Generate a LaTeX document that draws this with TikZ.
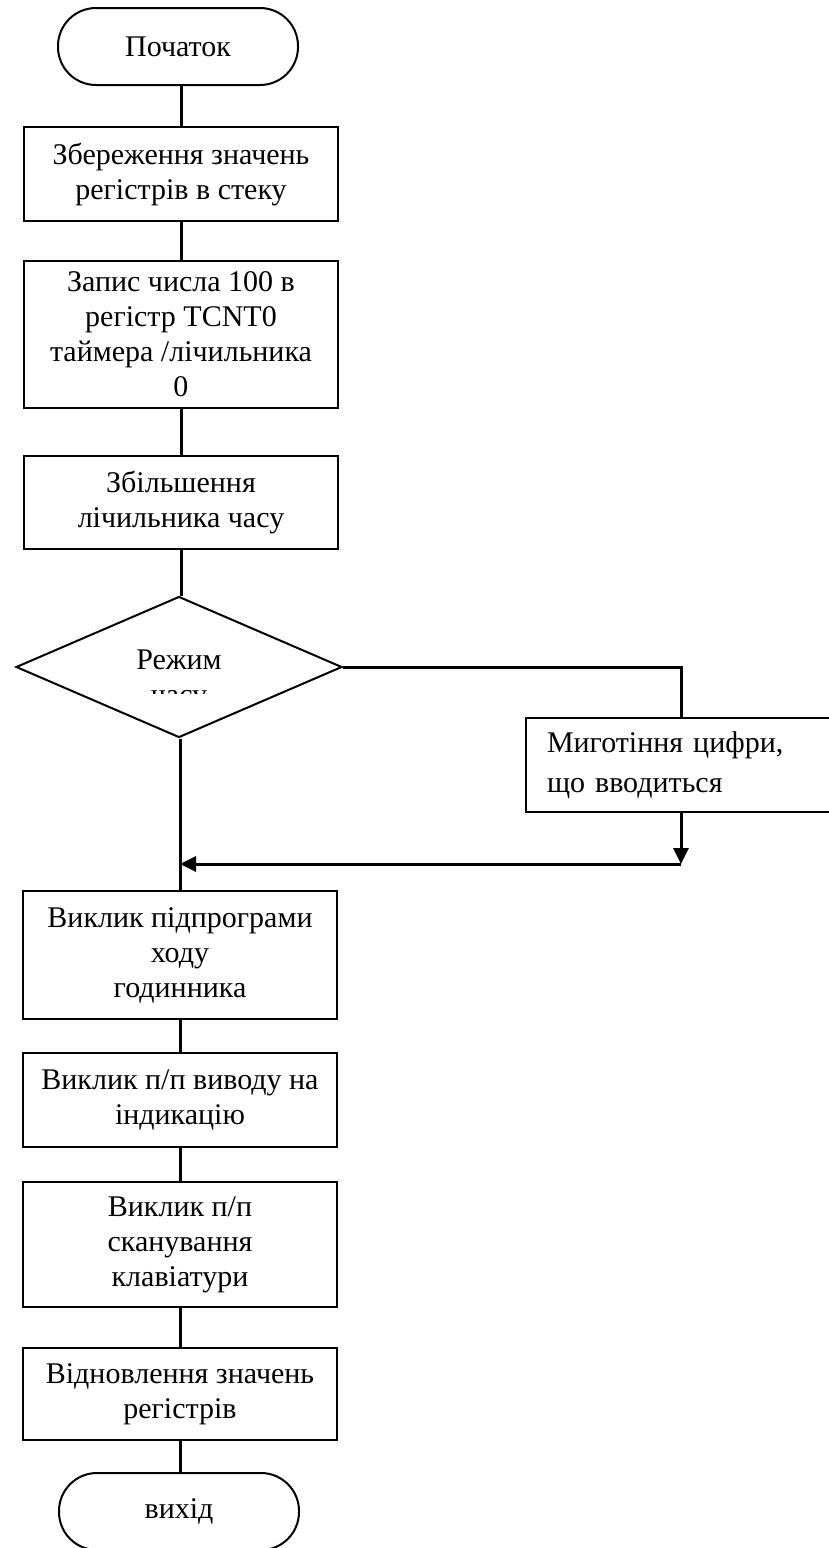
\documentclass[tikz,border=0pt]{standalone}
\usepackage{fontspec}
\setmainfont{Liberation Serif}
\usetikzlibrary{shapes.geometric,arrows.meta}
\begin{document}
\begin{tikzpicture}[x=1pt,y=-1pt,
  every node/.style={font=\fontsize{30}{35}\selectfont},
  proc/.style={draw,line width=2pt,rectangle,inner sep=0pt,align=center,minimum width=314pt},
  term/.style={draw,line width=2pt,rectangle,rounded corners=38pt,inner sep=0pt,minimum width=240pt,minimum height=77pt},
  decis/.style={draw,line width=2pt,diamond,inner sep=0pt,minimum width=326pt,minimum height=141pt},
  conn/.style={line width=3pt},
  arr/.style={line width=3pt,-{Triangle[length=16pt,width=15pt]}}
]
\useasboundingbox (0,0) rectangle (828,1548);
\node[term] (start) at (178,46.5) {Початок};
\node[proc,minimum height=94pt] (b1) at (181,174) {Збереження значень\\регістрів в стеку};
\node[proc,minimum height=147pt] (b2) at (181,334.5) {Запис числа 100 в\\регістр TCNT0\\таймера /лічильника\\0};
\node[proc,minimum height=93pt] (b3) at (181,502.5) {Збільшення\\лічильника часу};
\node[decis] (d) at (179,667) {};
\begin{scope}
  \clip (60,630) rectangle (300,693);
  \node[align=center] (dt) at (179,680) {Режим\\часу};
\end{scope}
\node[proc,minimum height=94pt,minimum width=310pt,text width=268pt,align=left,font=\fontsize{30}{40}\selectfont] (b4) at (681,765) {Миготіння цифри,\\що вводиться};
\node[proc,minimum height=128pt] (b5) at (180,955) {Виклик підпрограми\\ходу\\годинника};
\node[proc,minimum height=94pt] (b6) at (180,1100) {Виклик п/п виводу на\\індикацію};
\node[proc,minimum height=125pt] (b7) at (180,1244.5) {Виклик п/п\\сканування\\клавіатури};
\node[proc,minimum height=92pt] (b8) at (180,1394) {Відновлення значень\\регістрів};
\node[term] (end) at (179,1511.5) {вихід};
\coordinate (c1) at (681,667);
\coordinate (c2) at (681,864);
\coordinate (c3) at (180,864);
\draw[conn] (start.south -| b1.north) -- (b1.north);
\draw[conn] (b1) -- (b2);
\draw[conn] (b2) -- (b3);
\draw[conn] (b3.south) -- (b3.south |- d.north);
\draw[conn] (d.east) -- (c1) -- (b4.north);
\draw[arr] (b4.south) -- (c2);
\draw[arr] (c2) -- (c3);
\draw[conn] (d.south -| b5.north) -- (b5.north);
\draw[conn] (b5) -- (b6);
\draw[conn] (b6) -- (b7);
\draw[conn] (b7) -- (b8);
\draw[conn] (b8.south) -- (b8.south |- end.north);
\end{tikzpicture}
\end{document}
